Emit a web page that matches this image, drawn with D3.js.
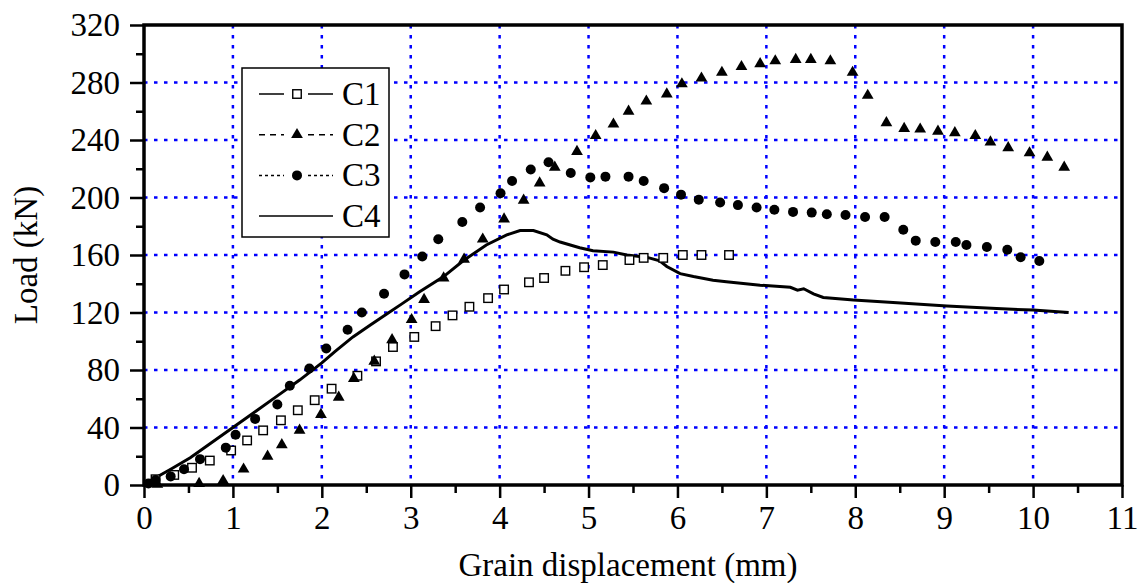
<!DOCTYPE html>
<html>
<head>
<meta charset="utf-8">
<script src="https://cdn.jsdelivr.net/npm/d3@7"></script>
<style>
  body { margin: 0; background: #fff; }
  text { font-family: "Liberation Serif", "Times New Roman", serif; }
</style>
</head>
<body>
<script>
// data: [displacement mm, load kN]
var seriesNames = ["C1", "C2", "C3", "C4"];
var c1 = [[0.13,4],[0.34,7],[0.54,12],[0.74,17],[0.98,24],[1.16,31],[1.34,38],[1.54,45],[1.73,52],[1.92,59],
  [2.11,67],[2.4,76],[2.61,86],[2.8,96],[3.04,103],[3.28,110.5],[3.47,118],[3.66,124],[3.87,130],[4.05,136],
  [4.33,141],[4.5,144],[4.74,149],[4.95,151.5],[5.16,153],[5.46,156.5],[5.62,158],[5.84,158],[6.06,160],[6.27,160],[6.58,160]];
var c2 = [[0.15,0.5],[0.62,1],[0.89,3],[1.12,11],[1.39,20],[1.55,28],[1.75,38],[1.99,49],[2.19,61],[2.36,74],
  [2.59,86],[2.79,101],[3.01,115],[3.15,129],[3.37,144],[3.6,157],[3.81,171],[4.05,185],[4.27,198],[4.45,210],
  [4.62,221],[4.87,232],[5.08,243],[5.28,251],[5.45,260],[5.65,267],[5.88,272],[6.05,279],[6.27,283],[6.5,287],
  [6.72,291],[6.93,293],[7.1,295],[7.33,296],[7.5,296],[7.72,295],[7.97,287],[8.14,271],[8.35,252],[8.55,248],
  [8.73,247.5],[8.93,246],[9.12,245],[9.35,243],[9.52,238.5],[9.72,234.5],[9.96,231],[10.16,228],[10.35,221]];
var c3 = [[0.05,1],[0.13,3.5],[0.3,6],[0.45,11],[0.63,18],[0.92,26],[1.03,35],[1.25,46],[1.5,56],[1.64,69],
  [1.86,81],[2.05,95],[2.29,108],[2.45,120],[2.7,133],[2.93,146.5],[3.13,159],[3.31,171],[3.58,183],[3.78,193],
  [4.01,203],[4.14,211.5],[4.35,219.5],[4.55,224.5],[4.8,217],[5.02,214],[5.19,214.5],[5.45,214.5],[5.62,211.5],
  [5.85,206.5],[6.04,202],[6.24,198.5],[6.48,196.5],[6.68,194.7],[6.89,193],[7.09,191.5],[7.3,190],[7.51,189.5],
  [7.68,188.3],[7.89,187.8],[8.11,186.4],[8.33,186.4],[8.54,177.6],[8.68,170],[8.9,169],[9.13,169],[9.25,167],
  [9.48,165.6],[9.71,163.7],[9.86,158.4],[10.07,155.8]];
var c4 = [[0,0],[0.13,5],[0.3,11],[0.52,19],[0.75,29],[1.0,40],[1.25,51],[1.5,62],[1.75,73],[2.0,85],
  [2.15,93],[2.35,103],[2.55,111.5],[2.73,119],[2.9,126],[3.1,134.5],[3.37,145],[3.59,156],[3.85,167],[4.08,174],
  [4.23,177],[4.38,177],[4.53,174],[4.6,171],[4.68,169],[4.9,165],[5.05,163],[5.28,162],[5.43,160],[5.65,158.5],
  [5.8,156],[5.88,152],[6.03,147],[6.18,145],[6.4,142.5],[6.55,141.4],[6.93,139],[7.27,137.5],[7.35,135.5],
  [7.42,136.5],[7.53,133],[7.64,130.5],[7.98,128.7],[8.47,126.8],[9.03,124.5],[9.59,122.7],[10.0,121.7],[10.4,120]];
var xTickValues = [0,1,2,3,4,5,6,7,8,9,10,11];
var xMinorValues = [0.5,1.5,2.5,3.5,4.5,5.5,6.5,7.5,8.5,9.5,10.5];
var yTickValues = [0,40,80,120,160,200,240,280,320];
var yMinorValues = [20,60,100,140,180,220,260,300];
var xTitle = "Grain displacement (mm)";
var yTitle = "Load (kN)";

var W = 1141, H = 583;
var margin = {top: 25, right: 19, bottom: 98, left: 144};
var width = W - margin.left - margin.right;
var height = H - margin.top - margin.bottom;

var x = d3.scaleLinear().domain([0, 11]).range([0, width]);
var y = d3.scaleLinear().domain([0, 320]).range([height, 0]);

var svg = d3.select("body").append("svg")
    .attr("width", W)
    .attr("height", H)
  .append("g")
    .attr("transform", "translate(" + margin.left + "," + margin.top + ")");

// grid
svg.append("g").selectAll("line").data(xTickValues.slice(1, -1)).enter().append("line")
    .attr("x1", function(d) { return x(d); }).attr("x2", function(d) { return x(d); })
    .attr("y1", 0).attr("y2", height)
    .attr("stroke", "#0000ff").attr("stroke-width", 2.5).attr("stroke-dasharray", "3.5,6.5");
svg.append("g").selectAll("line").data(yTickValues.slice(1, -1)).enter().append("line")
    .attr("y1", function(d) { return y(d); }).attr("y2", function(d) { return y(d); })
    .attr("x1", 0).attr("x2", width)
    .attr("stroke", "#0000ff").attr("stroke-width", 2.5).attr("stroke-dasharray", "3.5,6.5");

// axes
var xAxis = svg.append("g").attr("transform", "translate(0," + height + ")")
    .call(d3.axisBottom(x).tickValues(xTickValues).tickSize(13).tickPadding(8).tickFormat(d3.format("d")));
svg.append("g").attr("transform", "translate(0," + height + ")")
    .call(d3.axisBottom(x).tickValues(xMinorValues).tickSize(8).tickFormat(""));
var yAxis = svg.append("g")
    .call(d3.axisLeft(y).tickValues(yTickValues).tickSize(14).tickPadding(10).tickFormat(d3.format("d")));
svg.append("g")
    .call(d3.axisLeft(y).tickValues(yMinorValues).tickSize(8).tickFormat(""));

svg.selectAll(".domain").remove();
svg.selectAll(".tick line").attr("stroke", "#000").attr("stroke-width", 2.5);
svg.selectAll(".tick text").attr("font-size", 33).attr("fill", "#000")
    .style("font-family", "'Liberation Serif', serif");

// frame
svg.append("rect").attr("x", 0).attr("y", 0).attr("width", width).attr("height", height)
    .attr("fill", "none").attr("stroke", "#000").attr("stroke-width", 3.5);

// C4 line
svg.append("path").datum(c4)
    .attr("fill", "none").attr("stroke", "#000").attr("stroke-width", 3)
    .attr("d", d3.line().x(function(d) { return x(d[0]); }).y(function(d) { return y(d[1]); }));

var sq = 8.5, tri = d3.symbol().type(d3.symbolTriangle).size(60);

svg.append("g").selectAll("rect").data(c1).enter().append("rect")
    .attr("x", function(d) { return x(d[0]) - sq / 2; })
    .attr("y", function(d) { return y(d[1]) - sq / 2; })
    .attr("width", sq).attr("height", sq)
    .attr("fill", "#fff").attr("stroke", "#000").attr("stroke-width", 1.4);

svg.append("g").selectAll("path").data(c2).enter().append("path")
    .attr("d", tri)
    .attr("transform", function(d) { return "translate(" + x(d[0]) + "," + y(d[1]) + ")"; })
    .attr("fill", "#000");

svg.append("g").selectAll("circle").data(c3).enter().append("circle")
    .attr("cx", function(d) { return x(d[0]); })
    .attr("cy", function(d) { return y(d[1]); })
    .attr("r", 5).attr("fill", "#000");

// axis titles
svg.append("text").attr("x", width / 2 - 5).attr("y", height + 91)
    .attr("text-anchor", "middle").attr("font-size", 33).text(xTitle);
svg.append("text").attr("transform", "translate(" + (-107) + "," + (height / 2) + ") rotate(-90)")
    .attr("text-anchor", "middle").attr("font-size", 33).text(yTitle);

// legend
var legend = svg.append("g").attr("transform", "translate(" + (242 - margin.left) + "," + (68 - margin.top) + ")");
legend.append("rect").attr("width", 147).attr("height", 169)
    .attr("fill", "#fff").attr("stroke", "#000").attr("stroke-width", 1.5);
var dashes = [null, "6,5", "3,3", null];
seriesNames.forEach(function(name, i) {
  var ry = 26 + i * 40.7;
  var row = legend.append("g").attr("transform", "translate(0," + ry + ")");
  if (i < 3) {
    row.append("line").attr("x1", 17).attr("x2", 42).attr("y1", 0).attr("y2", 0)
        .attr("stroke", "#000").attr("stroke-width", 1.5).attr("stroke-dasharray", dashes[i]);
    row.append("line").attr("x1", 66).attr("x2", 91).attr("y1", 0).attr("y2", 0)
        .attr("stroke", "#000").attr("stroke-width", 1.5).attr("stroke-dasharray", dashes[i]);
  } else {
    row.append("line").attr("x1", 17).attr("x2", 91).attr("y1", 0).attr("y2", 0)
        .attr("stroke", "#000").attr("stroke-width", 1.5);
  }
  if (i === 0) row.append("rect").attr("x", 55 - sq / 2).attr("y", -sq / 2).attr("width", sq).attr("height", sq)
      .attr("fill", "#fff").attr("stroke", "#000").attr("stroke-width", 1.4);
  if (i === 1) row.append("path").attr("d", tri).attr("transform", "translate(55,0)").attr("fill", "#000");
  if (i === 2) row.append("circle").attr("cx", 55).attr("r", 5).attr("fill", "#000");
  row.append("text").attr("x", 100).attr("y", 11).attr("font-size", 33).text(name);
});
</script>
</body>
</html>
